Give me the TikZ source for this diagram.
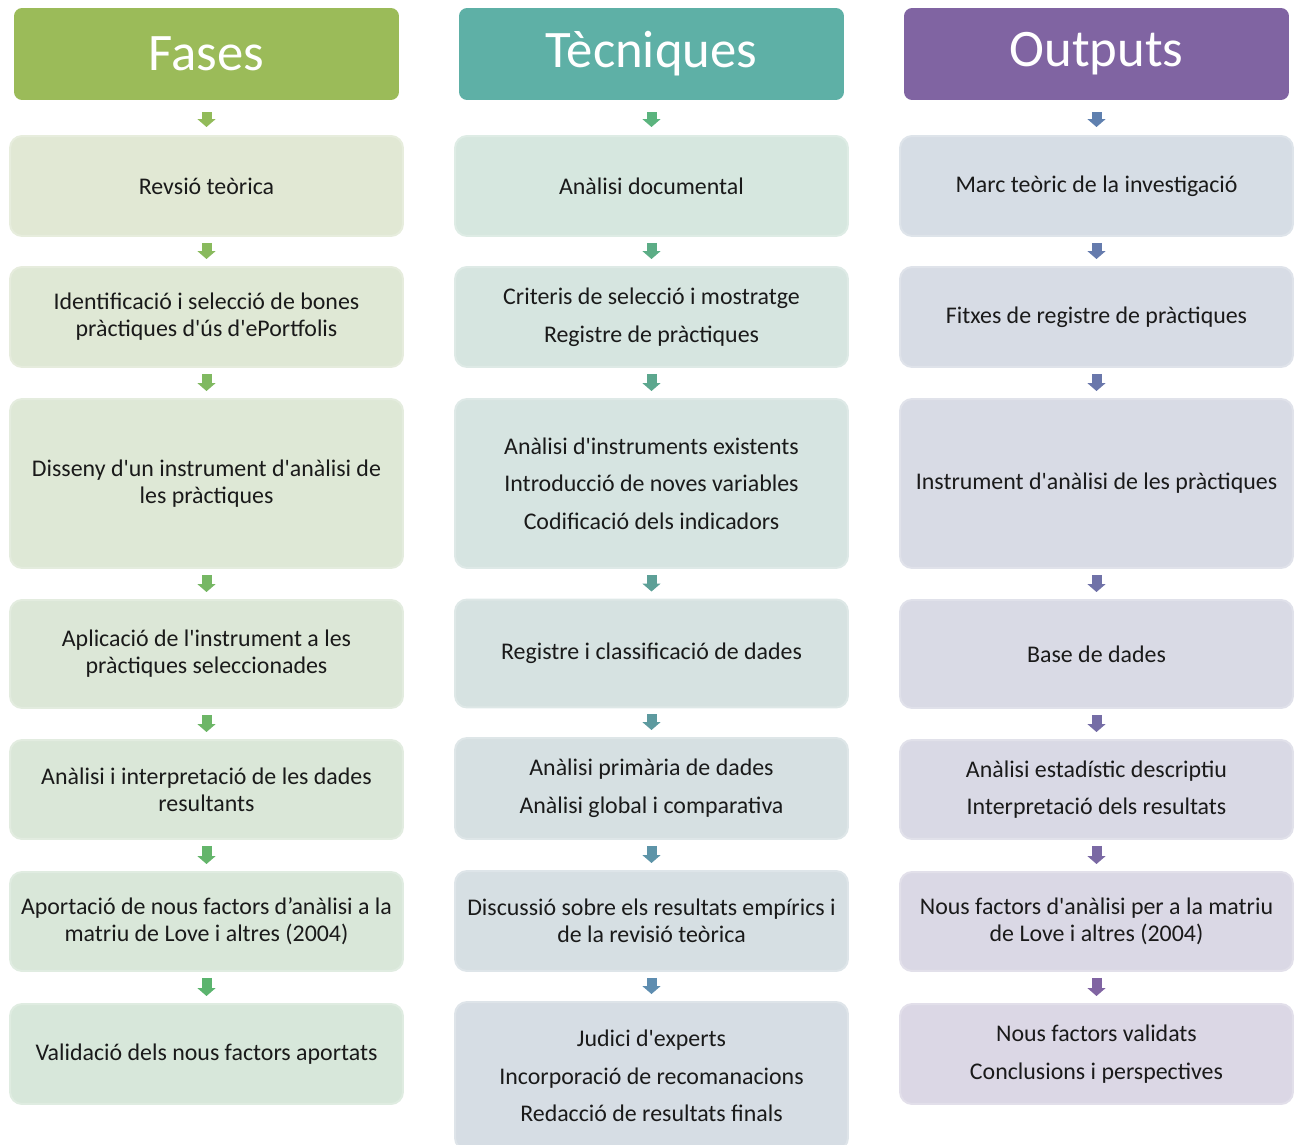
\documentclass[tikz,border=0pt]{standalone}
\usepackage{fontspec}
\setmainfont{Carlito}
\usetikzlibrary{arrows.meta}
\definecolor{hdfase}{HTML}{9BBB59}
\definecolor{hdtec}{HTML}{5EB0A6}
\definecolor{hdout}{HTML}{8064A2}
\definecolor{bxfaseA}{HTML}{E1E8D4}
\definecolor{bxfaseB}{HTML}{D7E7DA}
\definecolor{bxtecA}{HTML}{D6E7DF}
\definecolor{bxtecB}{HTML}{D6DDE4}
\definecolor{bxoutA}{HTML}{D6DDE5}
\definecolor{bxoutB}{HTML}{DBD7E5}
\definecolor{arfaseA}{HTML}{92BB5A}
\definecolor{arfaseB}{HTML}{5BB46E}
\definecolor{artecA}{HTML}{5BB47E}
\definecolor{artecB}{HTML}{5E8DB0}
\definecolor{aroutA}{HTML}{5F80AF}
\definecolor{aroutB}{HTML}{8064A2}
\definecolor{txt}{HTML}{1A1A1A}
\newcommand{\ap}{\textquotesingle}
\begin{document}
\begin{tikzpicture}[x=0.02cm,y=-0.02cm,
    header/.style={fill=#1, rounded corners=0.16cm, minimum width=7.7cm, minimum height=1.84cm,
      text=white, font=\fontsize{30}{34}\selectfont, inner sep=0pt},
    cell/.style={fill=#1, draw=#1!80!white, line width=0.04cm, rounded corners=0.24cm,
      minimum width=7.86cm, text=txt, align=center, font=\fontsize{13.6}{15.4}\selectfont, inner sep=0pt},
    flow/.style={draw=#1, line width=0.2cm, -{Triangle[width=0.36cm,length=0.16cm]},
      shorten <=0.12cm, shorten >=0.14cm},
    first/.style={shorten <=0.24cm, shorten >=0.16cm}]
    \path[use as bounding box, clip] (0,0) rectangle (1296,1145);
    % headers
    \node[header=hdfase] (hf) at (206.5,54) {Fases};
    \node[header=hdtec] (ht) at (651.5,54) {Tècniques};
    \node[header=hdout] (ho) at (1096.5,54) {Outputs};
    % Fases
    \node[cell=bxfaseA, minimum height=2.0cm] (f1) at (206.5,186) {Revsió teòrica};
    \node[cell=bxfaseA!83!bxfaseB, minimum height=2.0cm] (f2) at (206.5,317) {Identificació i selecció de bones\\pràctiques d\ap ús d\ap ePortfolis};
    \node[cell=bxfaseA!67!bxfaseB, minimum height=3.38cm] (f3) at (206.5,483.5) {Disseny d\ap un instrument d\ap anàlisi de\\les pràctiques};
    \node[cell=bxfaseA!50!bxfaseB, minimum height=2.16cm] (f4) at (206.5,654) {Aplicació de l\ap instrument a les\\pràctiques seleccionades};
    \node[cell=bxfaseA!33!bxfaseB, minimum height=1.98cm] (f5) at (206.5,789.5) {Anàlisi i interpretació de les dades\\resultants};
    \node[cell=bxfaseA!17!bxfaseB, minimum height=1.98cm] (f6) at (206.5,921.5) {Aportació de nous factors d’anàlisi a la\\matriu de Love i altres (2004)};
    \node[cell=bxfaseB, minimum height=2.0cm] (f7) at (206.5,1054) {Validació dels nous factors aportats};
    % Tecniques
    \node[cell=bxtecA, minimum height=2.0cm] (t1) at (651.5,186) {Anàlisi documental};
    \node[cell=bxtecA!83!bxtecB, minimum height=2.0cm] (t2) at (651.5,317) {Criteris de selecció i mostratge\\[6pt]Registre de pràctiques};
    \node[cell=bxtecA!67!bxtecB, minimum height=3.38cm] (t3) at (651.5,483.5) {Anàlisi d\ap instruments existents\\[6pt]Introducció de noves variables\\[6pt]Codificació dels indicadors};
    \node[cell=bxtecA!50!bxtecB, minimum height=2.16cm] (t4) at (651.5,653.5) {Registre i classificació de dades};
    \node[cell=bxtecA!33!bxtecB, minimum height=2.02cm] (t5) at (651.5,788.5) {Anàlisi primària de dades\\[6pt]Anàlisi global i comparativa};
    \node[cell=bxtecA!17!bxtecB, minimum height=2.0cm] (t6) at (651.5,921) {Discussió sobre els resultats empírics i\\de la revisió teòrica};
    \node[cell=bxtecB, minimum height=2.96cm] (t7) at (651.5,1076) {Judici d\ap experts\\[6pt]Incorporació de recomanacions\\[6pt]Redacció de resultats finals};
    % Outputs
    \node[cell=bxoutA, minimum height=2.0cm] (o1) at (1096.5,186) {Marc teòric de la investigació};
    \node[cell=bxoutA!83!bxoutB, minimum height=2.0cm] (o2) at (1096.5,317) {Fitxes de registre de pràctiques};
    \node[cell=bxoutA!67!bxoutB, minimum height=3.38cm] (o3) at (1096.5,483.5) {Instrument d\ap anàlisi de les pràctiques};
    \node[cell=bxoutA!50!bxoutB, minimum height=2.16cm] (o4) at (1096.5,654) {Base de dades};
    \node[cell=bxoutA!33!bxoutB, minimum height=1.98cm] (o5) at (1096.5,789.5) {Anàlisi estadístic descriptiu\\[6pt]Interpretació dels resultats};
    \node[cell=bxoutA!17!bxoutB, minimum height=1.98cm] (o6) at (1096.5,921.5) {Nous factors d\ap anàlisi per a la matriu\\de Love i altres (2004)};
    \node[cell=bxoutB, minimum height=2.0cm] (o7) at (1096.5,1054) {Nous factors validats\\[6pt]Conclusions i perspectives};
    % arrows
    \draw[flow=arfaseA, first] (hf) -- (f1);
    \draw[flow=artecA, first] (ht) -- (t1);
    \draw[flow=aroutA, first] (ho) -- (o1);
    \draw[flow=arfaseA!83!arfaseB] (f1) -- (f2);
    \draw[flow=arfaseA!67!arfaseB] (f2) -- (f3);
    \draw[flow=arfaseA!50!arfaseB] (f3) -- (f4);
    \draw[flow=arfaseA!33!arfaseB] (f4) -- (f5);
    \draw[flow=arfaseA!17!arfaseB] (f5) -- (f6);
    \draw[flow=arfaseB] (f6) -- (f7);
    \draw[flow=artecA!83!artecB] (t1) -- (t2);
    \draw[flow=artecA!67!artecB] (t2) -- (t3);
    \draw[flow=artecA!50!artecB] (t3) -- (t4);
    \draw[flow=artecA!33!artecB] (t4) -- (t5);
    \draw[flow=artecA!17!artecB] (t5) -- (t6);
    \draw[flow=artecB] (t6) -- (t7);
    \draw[flow=aroutA!83!aroutB] (o1) -- (o2);
    \draw[flow=aroutA!67!aroutB] (o2) -- (o3);
    \draw[flow=aroutA!50!aroutB] (o3) -- (o4);
    \draw[flow=aroutA!33!aroutB] (o4) -- (o5);
    \draw[flow=aroutA!17!aroutB] (o5) -- (o6);
    \draw[flow=aroutB] (o6) -- (o7);
\end{tikzpicture}
\end{document}
